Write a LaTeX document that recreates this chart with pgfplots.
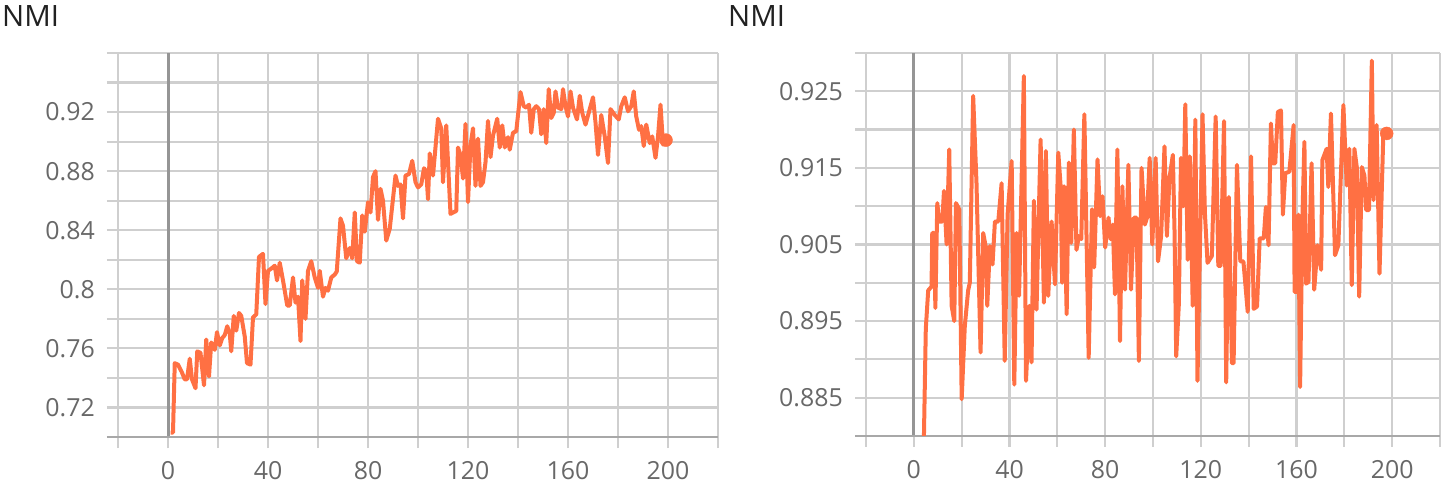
\documentclass[border=0pt]{standalone}
\usepackage{fontspec}
\setmainfont{Open Sans}
\usepackage{pgfplots}
\pgfplotsset{compat=1.18}
\definecolor{nmiorange}{HTML}{FF7043}
\definecolor{gridc}{HTML}{CFCFCF}
\definecolor{zeroc}{HTML}{959595}
\definecolor{axisc}{HTML}{A8A8A8}
\definecolor{labc}{HTML}{686868}
\definecolor{titc}{HTML}{212121}
\pgfplotsset{tbstyle/.style={
  scale only axis, anchor=south west, clip=true,
  axis line style={draw=none},
  grid=major, grid style={gridc, line width=2.2bp},
  xtick pos=bottom, xtick align=outside, major tick length=11bp,
  xtick style={gridc, line width=2.2bp}, ytick style={draw=none},
  tick label style={font=\fontsize{25}{30}\selectfont, text=labc},
  xtick={-20,0,20,40,60,80,100,120,140,160,180,200,220},
  xticklabels={,0,,40,,80,,120,,160,,200,},
  xticklabel style={inner sep=0pt, anchor=north, yshift=-13bp},
  yticklabel style={inner sep=0pt, anchor=east, xshift=-12bp},
  extra x ticks={0}, extra x tick labels={},
  extra x tick style={grid style={zeroc, line width=3bp}, tick style={zeroc, line width=3bp}},
  xmax=220,
}}
\begin{document}
\begin{tikzpicture}
\useasboundingbox (0,0) rectangle (1447bp,483bp);
\node[anchor=base west, inner sep=0pt, text=titc, font=\fontsize{29.5}{33}\selectfont] at (2bp,456bp) {NMI};
\node[anchor=base west, inner sep=0pt, text=titc, font=\fontsize{29.5}{33}\selectfont] at (728bp,456bp) {NMI};
\begin{axis}[tbstyle, at={(107bp,46bp)}, width=611bp, height=384bp,
  xmin=-24.4, ymin=0.70, ymax=0.96,
  ytick={0.70,0.72,0.74,0.76,0.78,0.80,0.82,0.84,0.86,0.88,0.90,0.92,0.94,0.96},
  yticklabels={,0.72,,0.76,,0.8,,0.84,,0.88,,0.92,,},
  extra y ticks={0.70}, extra y tick labels={},
  extra y tick style={grid style={axisc, line width=2.8bp}},
]
\addplot[nmiorange, line width=4bp, line join=round, no markers] coordinates {
(1,0.703)(2,0.703)(2.7,0.750)(4,0.749)(5.5,0.744)(6.7,0.739)(7.6,0.739)(8.7,0.753)(9.6,0.739)(11,0.733)(11.7,0.758)(13,0.757)(14.4,0.735)(15.3,0.766)(16.4,0.741)(17.3,0.764)(18.7,0.759)(19.6,0.771)(20.7,0.762)(21.7,0.767)(22.7,0.769)(23.7,0.775)(24.7,0.770)(25.3,0.758)(26.3,0.782)(27.3,0.772)(28.4,0.784)(29.3,0.782)(30.7,0.768)(31.6,0.750)(33,0.749)(34,0.781)(35.3,0.783)(36.4,0.822)(38,0.824)(39,0.790)(40,0.8125)(41.3,0.814)(42.7,0.816)(43.6,0.806)(44.7,0.818)(46,0.806)(47.7,0.789)(48.7,0.789)(50,0.808)(51,0.791)(52,0.795)(53,0.765)(53.7,0.806)(55,0.780)(56,0.8125)(57.3,0.819)(58.7,0.808)(60,0.801)(60.7,0.8125)(62,0.795)(63,0.801)(64,0.799)(65.3,0.808)(66.7,0.810)(67.5,0.812)(69,0.848)(70,0.843)(71.3,0.821)(72.7,0.828)(73.7,0.821)(74.7,0.852)(75.6,0.819)(76.7,0.818)(77.7,0.850)(78.7,0.839)(80,0.859)(81,0.852)(82,0.876)(83,0.880)(84,0.847)(85,0.868)(86,0.860)(87.3,0.833)(88.7,0.841)(91,0.877)(92,0.870)(93,0.871)(94,0.848)(95,0.877)(96.4,0.878)(97.7,0.887)(99,0.8725)(100,0.869)(101.3,0.871)(102.4,0.882)(103.3,0.880)(104,0.861)(104.7,0.892)(106,0.877)(108,0.9155)(109.3,0.909)(110,0.8725)(111.3,0.911)(113,0.851)(114,0.852)(115.3,0.853)(116,0.896)(117,0.891)(118,0.875)(119,0.912)(120,0.859)(121,0.8975)(122,0.909)(123,0.870)(124,0.902)(125,0.870)(126,0.8725)(127,0.886)(128,0.914)(129,0.8895)(130,0.904)(131.7,0.9155)(132.7,0.896)(133.7,0.911)(134.7,0.896)(136,0.903)(136.7,0.8945)(138,0.906)(139.3,0.907)(141,0.9335)(142.3,0.924)(143.3,0.923)(144.4,0.925)(145.3,0.906)(146.3,0.922)(147.3,0.924)(148.4,0.922)(149.3,0.905)(150.3,0.922)(151.3,0.899)(152.3,0.9355)(153.3,0.916)(154.3,0.9195)(155,0.934)(156,0.923)(157.3,0.922)(158,0.9355)(159,0.924)(160,0.917)(161,0.934)(162,0.923)(163.6,0.915)(164.7,0.931)(165.7,0.9195)(167,0.9115)(168.7,0.922)(170,0.930)(171,0.913)(172,0.891)(173.3,0.918)(174.7,0.9035)(176,0.8855)(177,0.922)(178.7,0.918)(180.3,0.915)(181.3,0.924)(182.7,0.930)(184,0.9205)(185.3,0.924)(186.3,0.934)(187.3,0.917)(188.4,0.908)(189.3,0.9105)(190.3,0.897)(191.3,0.9115)(192.7,0.899)(193.7,0.9035)(195,0.889)(196,0.9035)(197,0.925)(198,0.898)(199.2,0.901)
};
\addplot[nmiorange, only marks, mark=*, mark size=6.5bp] coordinates {(199.2,0.901)};
\end{axis}
\begin{axis}[tbstyle, at={(855bp,47bp)}, width=585bp, height=383bp,
  xmin=-24.6, ymin=0.88, ymax=0.93,
  ytick={0.88,0.885,0.89,0.895,0.90,0.905,0.91,0.915,0.92,0.925,0.93},
  yticklabels={,0.885,,0.895,,0.905,,0.915,,0.925,},
  extra y ticks={0.88}, extra y tick labels={},
  extra y tick style={grid style={axisc, line width=2.8bp}},
]
\addplot[nmiorange, line width=4bp, line join=round, no markers] coordinates {
(1,0.75)(2,0.80)(3,0.84)(4,0.876)(5,0.894)(6,0.899)(7.4,0.8995)(7.7,0.9065)(8.5,0.9065)(9,0.8967)(9.8,0.9104)(10.6,0.908)(11.9,0.908)(12.6,0.912)(13.7,0.905)(14.8,0.9174)(15.8,0.897)(16.9,0.895)(17.6,0.9104)(19,0.9096)(20,0.8848)(21.3,0.8943)(22.7,0.899)(23.4,0.900)(24.8,0.9244)(26.2,0.913)(27.9,0.8909)(29,0.9065)(30,0.9048)(30.7,0.897)(31.8,0.9048)(32.9,0.9024)(33.9,0.908)(35.3,0.908)(36.7,0.913)(38,0.8898)(39.2,0.9089)(40.9,0.9159)(42,0.8867)(43,0.9065)(44,0.8983)(46,0.927)(46.9,0.8872)(48.3,0.897)(49.2,0.8896)(50.2,0.9107)(51.3,0.8965)(53,0.9187)(54.4,0.8974)(55.2,0.9172)(56.2,0.8983)(57.6,0.908)(59,0.8998)(60.4,0.917)(61.4,0.9125)(62,0.900)(62.8,0.9126)(63.9,0.8959)(64.8,0.9157)(65.8,0.9052)(66.9,0.920)(68,0.9043)(69,0.9061)(70,0.9057)(71.3,0.922)(73.1,0.8902)(74.5,0.9096)(75.4,0.902)(76.8,0.9161)(77.9,0.9087)(78.9,0.9113)(80,0.9046)(81.4,0.9085)(82.3,0.9057)(83.2,0.9076)(84.1,0.8985)(85.1,0.9174)(86.2,0.8924)(87.2,0.9126)(88.3,0.8991)(89.7,0.9154)(90.8,0.8991)(92,0.9085)(93.1,0.9085)(94.1,0.8898)(95.2,0.915)(96.6,0.9076)(97.5,0.9085)(98.6,0.9163)(99.7,0.905)(101.1,0.9163)(102.1,0.9028)(103.4,0.9061)(104.8,0.9178)(105.8,0.9061)(106.9,0.9137)(108.3,0.9167)(109,0.9067)(109.7,0.8904)(110.8,0.8972)(111.7,0.9163)(112.7,0.910)(113.5,0.9233)(114.5,0.903)(115.4,0.9165)(116.6,0.897)(117.7,0.9213)(118.6,0.8872)(119.6,0.9043)(120.7,0.922)(121.7,0.9091)(122.8,0.9026)(124.6,0.9035)(126.2,0.9217)(127.3,0.9022)(128.3,0.9022)(129.7,0.9211)(130.6,0.887)(131.7,0.9112)(133,0.8895)(133.7,0.8895)(135.1,0.9154)(136.5,0.9028)(137.8,0.9028)(139.6,0.8962)(141,0.9165)(142.1,0.8966)(143.5,0.8969)(144.6,0.9058)(146.3,0.9058)(147.2,0.9099)(148.3,0.9049)(149.3,0.9208)(150.1,0.9156)(151.1,0.9156)(152.2,0.9223)(153.5,0.9225)(154.3,0.9089)(155.3,0.9143)(157,0.9145)(158.8,0.9206)(159.2,0.8988)(160.1,0.8988)(160.8,0.9089)(161.5,0.8864)(162.5,0.9089)(163.3,0.9184)(164,0.8999)(165,0.9001)(166.3,0.9156)(167.4,0.8991)(168.8,0.9049)(170.3,0.9017)(170.8,0.916)(172.6,0.9175)(173.3,0.9125)(174.4,0.9221)(176.1,0.9036)(177.5,0.9049)(179.6,0.9232)(181,0.9127)(182.1,0.9175)(183.1,0.8997)(184.2,0.9175)(185.2,0.9151)(186.2,0.8982)(187.3,0.9151)(188.4,0.914)(189.1,0.9095)(190.3,0.9095)(191.5,0.929)(192.2,0.9108)(193.5,0.9206)(194.7,0.9012)(196.3,0.9195)(197.7,0.9195)
};
\addplot[nmiorange, only marks, mark=*, mark size=6.5bp] coordinates {(197.7,0.9195)};
\end{axis}
\end{tikzpicture}
\end{document}
